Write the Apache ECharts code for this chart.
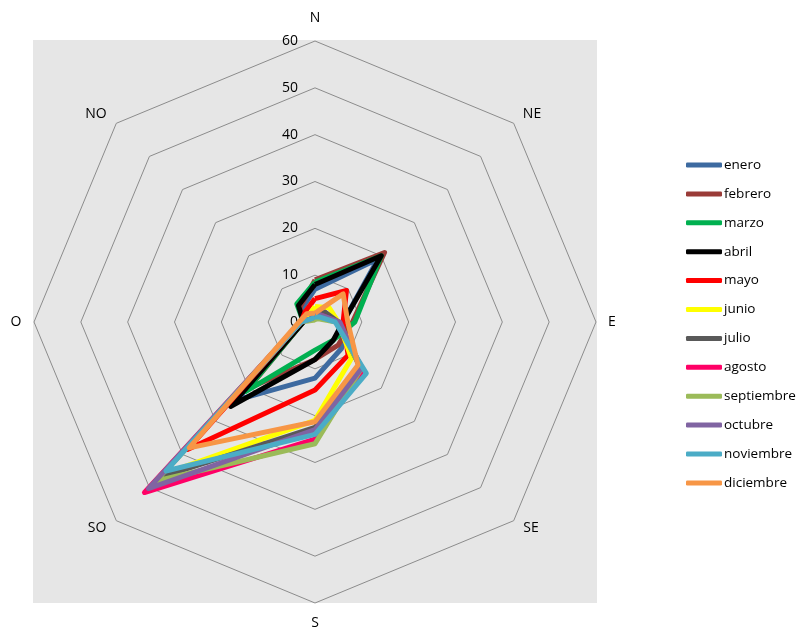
<!DOCTYPE html>
<html>
<head>
<meta charset="utf-8">
<script src="https://cdn.jsdelivr.net/npm/echarts@6/dist/echarts.min.js"></script>
<style>
html,body{margin:0;padding:0;background:#fff;}
#c{width:801px;height:630px;}
</style>
</head>
<body>
<div id="c"></div>
<script>
// Directions (clockwise from north)
var directions = ['N', 'NE', 'E', 'SE', 'S', 'SO', 'O', 'NO'];
var months = ['enero', 'febrero', 'marzo', 'abril', 'mayo', 'junio', 'julio', 'agosto', 'septiembre', 'octubre', 'noviembre', 'diciembre'];
var tickValues = [0, 10, 20, 30, 40, 50, 60];

// Values per month in order N, NE, E, SE, S, SO, O, NO
var enero      = [7,   19,  6,   8,    12,   23.5, 2.5, 4];
var febrero    = [9,   21,  8,   7,    8,    20,   2.5, 4.5];
var marzo      = [8.5, 20,  8.5, 5.5,  6,    21,   2.5, 5.5];
var abril      = [8,   20,  6,   5.5,  8,    25.5, 2.5, 5];
var mayo       = [5,   9.5, 6,   10,   14.5, 38.5, 3,   3];
var junio      = [3.3, 4.3, 5,   11,   21,   46,   3,   2];
var julio      = [1,   3,   5,   13.5, 22.5, 47,   3,   1];
var agosto     = [1,   2,   5,   14.5, 25,   51.5, 3,   1];
var septiembre = [0.5, 1,   4.5, 14,   26,   48,   3,   0.5];
var octubre    = [2,   2,   5.3, 14,   23,   50.3, 3,   1];
var noviembre  = [1.1, 1.5, 4.3, 15.5, 24,   45,   3,   1];
var diciembre  = [1.9, 8.5, 7,   13,   21.3, 38,   3.4, 2.5];

var seriesValues = [enero, febrero, marzo, abril, mayo, junio, julio, agosto, septiembre, octubre, noviembre, diciembre];
var colors = ['#3D6AA0', '#9A3B38', '#00B050', '#000000', '#FF0000', '#FFFF00', '#595959', '#FF0066', '#9BBB59', '#8064A2', '#4BACC6', '#F79646'];

// ECharts radar places indicators counter-clockwise; reorder so directions run clockwise
var order = [0, 7, 6, 5, 4, 3, 2, 1];
var FONT = '"Open Sans", sans-serif';

var cx = 315, cy = 322, R = 281;
var namePos = {
  N: [315, 18], NE: [532, 114], E: [612, 322], SE: [531, 528],
  S: [315, 623], SO: [97, 528], O: [16, 322], NO: [96, 114]
};

var chart = echarts.init(document.getElementById('c'), null, {renderer: 'canvas'});

var series = months.map(function (m, i) {
  return {
    type: 'radar',
    name: m,
    symbol: 'none',
    lineStyle: {width: 5, color: colors[i], join: 'round'},
    itemStyle: {color: colors[i]},
    z: 2 + i,
    data: [{name: m, value: order.map(function (k) { return seriesValues[i][k]; })}]
  };
});

var graphics = [{
  type: 'rect', z: -100,
  shape: {x: 33, y: 40, width: 564, height: 563},
  style: {fill: '#E6E6E6'}
}];
directions.forEach(function (d) {
  graphics.push({
    type: 'text',
    x: namePos[d][0], y: namePos[d][1],
    style: {text: d, fill: '#000', font: '14px ' + FONT, textAlign: 'center', textVerticalAlign: 'middle'}
  });
});

chart.setOption({
  animation: false,
  color: colors,
  textStyle: {fontFamily: FONT},
  graphic: graphics,
  legend: {
    orient: 'vertical',
    left: 686, top: 158,
    padding: 0,
    itemWidth: 36, itemHeight: 5, itemGap: 14.9,
    icon: 'roundRect',
    data: months,
    textStyle: {fontSize: 13.5, color: '#000', lineHeight: 14, fontFamily: FONT, padding: [0, 0, 0, -3]}
  },
  radar: {
    center: [cx, cy],
    radius: R,
    startAngle: 90,
    shape: 'polygon',
    splitNumber: 6,
    indicator: order.map(function (k) { return {name: directions[k], min: 0, max: 60}; }),
    axisName: {show: false},
    axisLine: {show: false},
    splitArea: {show: false},
    splitLine: {lineStyle: {color: '#8C8C8C', width: 1}}
  },
  grid: {left: cx, top: cy - R, width: 1, height: R, containLabel: false},
  xAxis: {type: 'value', show: false},
  yAxis: {
    type: 'value', min: 0, max: 60, interval: 10,
    axisLine: {show: false}, axisTick: {show: false}, splitLine: {show: false},
    axisLabel: {margin: 17, fontSize: 14, color: '#000', fontFamily: FONT,
      formatter: function (v) { return tickValues.indexOf(v) >= 0 ? String(v) : ''; }}
  },
  series: series
});
</script>
</body>
</html>
